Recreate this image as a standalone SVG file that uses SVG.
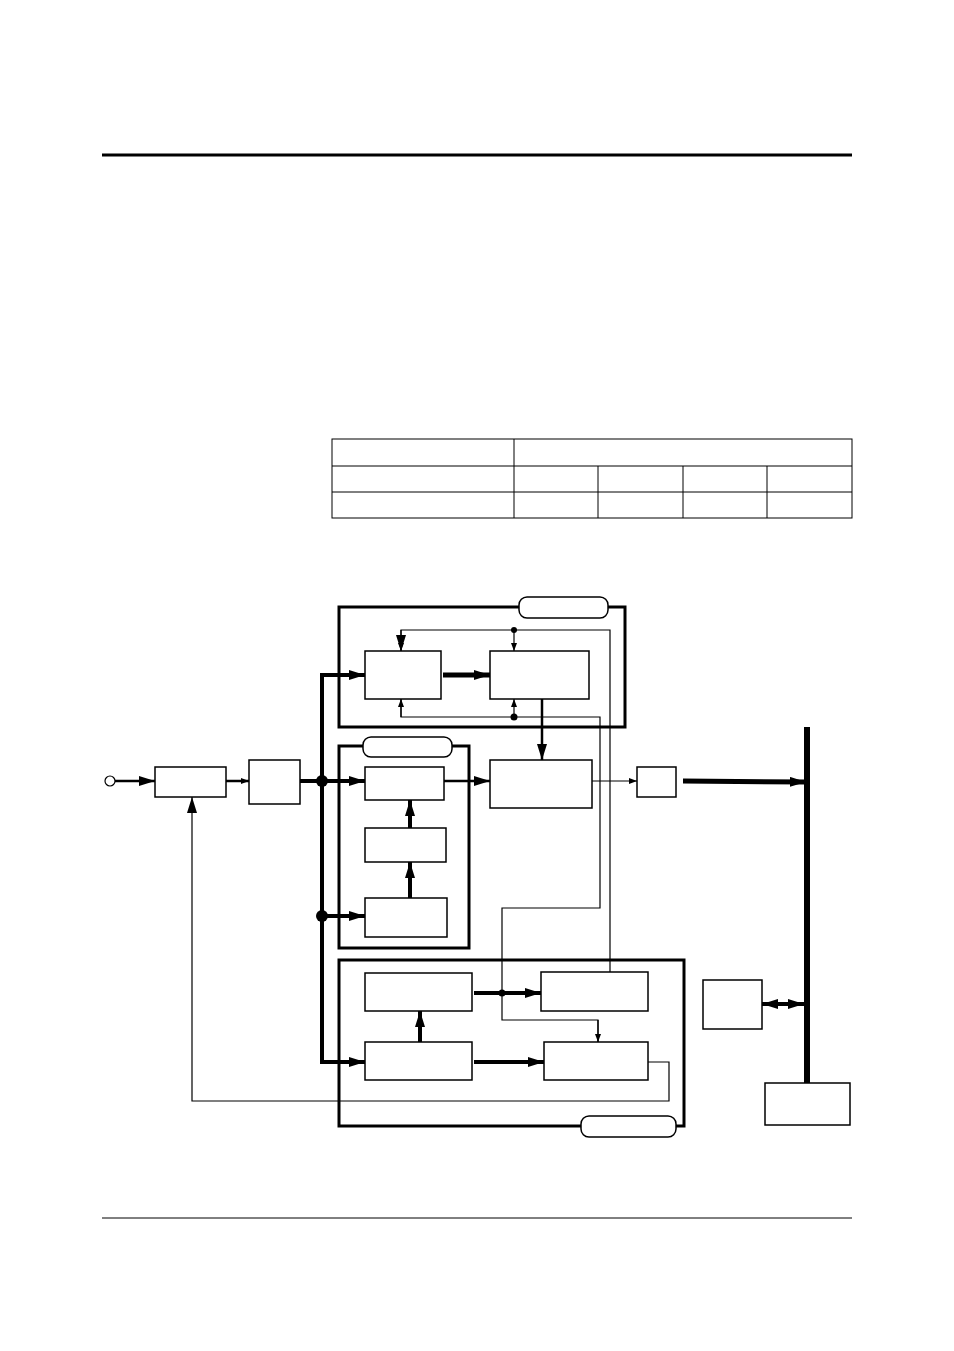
<svg xmlns="http://www.w3.org/2000/svg" width="954" height="1351" viewBox="0 0 954 1351">
<style>
.b{fill:#fff;stroke:#000;stroke-width:1.5}
.f{fill:none;stroke:#000;stroke-width:3}
.p{fill:#fff;stroke:#000;stroke-width:1.5}
.t{fill:none;stroke:#000;stroke-width:1.2}
.k{fill:none;stroke:#000;stroke-width:4}
.m{fill:none;stroke:#000;stroke-width:2.5}
</style>
<defs>
<marker id="a" markerWidth="8" markerHeight="6" refX="8" refY="3" orient="auto" markerUnits="userSpaceOnUse"><path d="M0,0L8,3L0,6z"/></marker>
<marker id="A" markerWidth="16" markerHeight="10" refX="16" refY="5" orient="auto" markerUnits="userSpaceOnUse"><path d="M0,0L16,5L0,10z"/></marker>
<marker id="S" markerWidth="16" markerHeight="10" refX="0" refY="5" orient="auto" markerUnits="userSpaceOnUse"><path d="M16,0L0,5L16,10z"/></marker>
</defs>
<rect width="954" height="1351" fill="#fff"/>
<line x1="102" y1="155" x2="852" y2="155" stroke="#000" stroke-width="3"/>
<line x1="102" y1="1218" x2="852" y2="1218" stroke="#000" stroke-width="1"/>
<g id="table" fill="none" stroke="#000" stroke-width="1">
<rect x="332" y="439" width="520" height="79"/>
<line x1="332" y1="466" x2="852" y2="466"/><line x1="332" y1="492" x2="852" y2="492"/>
<line x1="514" y1="439" x2="514" y2="518"/>
<line x1="598" y1="466" x2="598" y2="518"/><line x1="683" y1="466" x2="683" y2="518"/><line x1="767" y1="466" x2="767" y2="518"/>
</g>
<g id="frames">
<rect class="f" x="339" y="607" width="286" height="120"/>
<rect class="f" x="339" y="746" width="130" height="202"/>
<rect class="f" x="339" y="960" width="345" height="166"/>
<rect class="p" x="519" y="597" width="89" height="21" rx="8"/>
<rect class="p" x="363" y="737" width="89" height="20" rx="8"/>
<rect class="p" x="581" y="1116" width="95" height="21" rx="8"/>
</g>
<g id="nodes">
<circle id="in" cx="110" cy="781" r="5" fill="#fff" stroke="#000" stroke-width="1.2"/>
<rect id="n1" class="b" x="155" y="767" width="71" height="30"/>
<rect id="n2" class="b" x="249" y="760" width="51" height="44"/>
<rect id="nA" class="b" x="365" y="651" width="76" height="48"/>
<rect id="nB" class="b" x="490" y="651" width="99" height="48"/>
<rect id="nC" class="b" x="490" y="760" width="102" height="48"/>
<rect id="nD" class="b" x="637" y="767" width="39" height="30"/>
<rect id="m1" class="b" x="365" y="767" width="79" height="33"/>
<rect id="m2" class="b" x="365" y="828" width="81" height="34"/>
<rect id="m3" class="b" x="365" y="898" width="82" height="39"/>
<rect id="q1" class="b" x="365" y="973" width="107" height="38"/>
<rect id="q2" class="b" x="541" y="972" width="107" height="39"/>
<rect id="q3" class="b" x="365" y="1042" width="107" height="38"/>
<rect id="q4" class="b" x="544" y="1042" width="104" height="38"/>
<rect id="nE" class="b" x="703" y="980" width="59" height="49"/>
<rect id="nF" class="b" x="765" y="1083" width="85" height="42"/>
</g>
<g id="connectors">
<line class="m" x1="115" y1="781" x2="155" y2="781" marker-end="url(#A)"/>
<line class="m" x1="226" y1="781" x2="249" y2="781" marker-end="url(#a)"/>
<line class="k" x1="300" y1="781" x2="322" y2="781"/>
<circle cx="322" cy="781" r="6"/><circle cx="322" cy="916" r="6"/>
<polyline class="k" points="365,675 322,675 322,1062 365,1062" marker-end="url(#A)"/>
<line class="k" x1="322" y1="675" x2="365" y2="675" marker-end="url(#A)"/>
<line class="k" x1="322" y1="781" x2="365" y2="781" marker-end="url(#A)"/>
<line class="k" x1="322" y1="916" x2="365" y2="916" marker-end="url(#A)"/>
<line x1="443" y1="675" x2="490" y2="675" stroke="#000" stroke-width="5" marker-end="url(#A)"/>
<line class="m" x1="444" y1="781" x2="490" y2="781" marker-end="url(#A)"/>
<line class="k" x1="410" y1="898" x2="410" y2="862" marker-end="url(#A)"/>
<line class="k" x1="410" y1="828" x2="410" y2="800" marker-end="url(#A)"/>
<polyline class="t" points="401,651 401,630 610,630 610,972" marker-start="url(#S)"/>
<line class="t" x1="401" y1="630" x2="401" y2="651" marker-end="url(#a)"/>
<line class="t" x1="514" y1="630" x2="514" y2="651" marker-end="url(#a)"/>
<circle cx="514" cy="630" r="3"/>
<polyline class="t" points="401,699 401,717 600,717 600,908 502,908 502,1020 598,1020 598,1042"/>
<line class="t" x1="401" y1="717" x2="401" y2="699" marker-end="url(#a)"/>
<line class="t" x1="514" y1="717" x2="514" y2="699" marker-end="url(#a)"/>
<line class="t" x1="598" y1="1020" x2="598" y2="1042" marker-end="url(#a)"/>
<circle cx="514" cy="717" r="3.5"/>
<line class="m" x1="542" y1="699" x2="542" y2="760" marker-end="url(#A)"/>
<line class="t" x1="592" y1="781" x2="637" y2="781" marker-end="url(#a)"/>
<line x1="683" y1="781" x2="806" y2="782" stroke="#000" stroke-width="5" marker-end="url(#A)"/>
<line x1="807" y1="727" x2="807" y2="1083" stroke="#000" stroke-width="6"/>
<line class="k" x1="762" y1="1004" x2="804" y2="1004" marker-start="url(#S)" marker-end="url(#A)"/>
<line class="k" x1="420" y1="1042" x2="420" y2="1011" marker-end="url(#A)"/>
<line class="k" x1="474" y1="993" x2="541" y2="993" marker-end="url(#A)"/>
<circle cx="502" cy="993" r="3.5"/>
<line class="k" x1="474" y1="1062" x2="544" y2="1062" marker-end="url(#A)"/>
<polyline class="t" points="648,1062 669,1062 669,1101 192,1101 192,797" marker-end="url(#A)"/>
</g>
</svg>
